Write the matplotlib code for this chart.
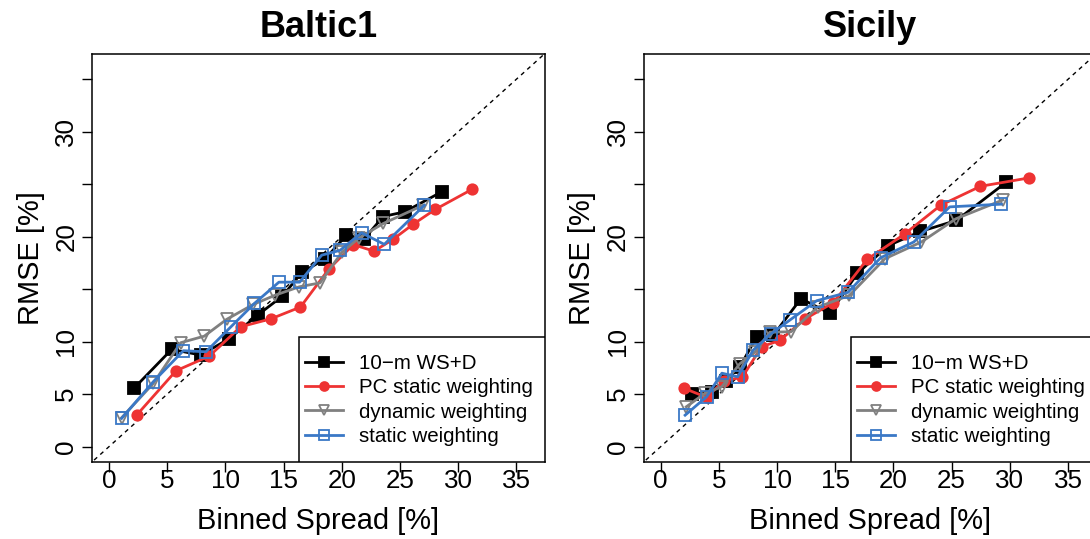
import numpy as np
import matplotlib.pyplot as plt
from matplotlib.patches import Rectangle

plt.rcParams["font.family"] = ["Liberation Sans", "DejaVu Sans"]

labels = ["10\u2212m WS+D", "PC static weighting", "dynamic weighting", "static weighting"]
titles = ["Baltic1", "Sicily"]

# Baltic1
b_ws_x = [2.18, 5.38, 7.9, 10.34, 12.77, 14.9, 16.6, 18.56, 20.4, 21.95, 23.55, 25.4, 28.58]
b_ws_y = [5.6, 9.26, 8.73, 10.3, 12.53, 14.34, 16.63, 17.87, 20.15, 19.82, 21.92, 22.37, 24.27]
b_pc_x = [2.38, 5.76, 8.62, 11.31, 13.92, 16.45, 18.86, 20.99, 22.77, 24.4, 26.15, 28.03, 31.17]
b_pc_y = [3.01, 7.23, 8.63, 11.42, 12.18, 13.3, 16.88, 19.25, 18.62, 19.75, 21.2, 22.6, 24.5]
b_dyn_x = [1.09, 3.81, 6.16, 8.19, 10.1, 12.4, 14.3, 16.35, 18.13, 20.0, 21.5, 23.57, 27.0]
b_dyn_y = [2.76, 6.03, 9.9, 10.53, 12.12, 13.55, 14.44, 15.23, 15.6, 18.5, 19.9, 21.26, 23.0]
b_st_x = [1.09, 3.81, 6.39, 8.33, 10.48, 12.49, 14.6, 16.38, 18.27, 19.85, 21.7, 23.65, 27.1]
b_st_y = [2.7, 6.19, 9.14, 9.04, 11.42, 13.64, 15.67, 15.67, 18.24, 18.7, 20.37, 19.27, 23.0]

# Sicily
s_ws_x = [2.66, 4.38, 5.6, 6.8, 8.24, 9.67, 12.05, 14.53, 16.9, 19.55, 22.32, 25.4, 29.7]
s_ws_y = [5.0, 5.25, 6.3, 7.6, 10.45, 10.6, 14.1, 12.7, 16.5, 19.15, 20.5, 21.55, 25.2]
s_pc_x = [2.03, 3.95, 5.45, 7.0, 8.67, 10.24, 12.37, 14.82, 17.75, 20.95, 24.06, 27.47, 31.64]
s_pc_y = [5.55, 4.7, 6.3, 6.6, 9.52, 10.12, 12.15, 13.7, 17.85, 20.25, 23.0, 24.8, 25.6]
s_dyn_x = [2.2, 3.8, 5.24, 6.8, 8.1, 9.38, 11.2, 13.5, 16.2, 19.26, 22.4, 25.35, 29.4]
s_dyn_y = [3.8, 5.08, 5.7, 7.9, 9.0, 10.9, 10.95, 13.3, 14.4, 17.9, 19.5, 21.7, 23.5]
s_st_x = [2.1, 3.95, 5.26, 6.62, 7.95, 9.44, 11.1, 13.4, 16.1, 18.9, 21.75, 24.83, 29.27]
s_st_y = [3.0, 4.76, 7.0, 6.66, 9.2, 10.72, 12.06, 13.9, 14.7, 18.0, 19.5, 22.84, 23.1]

panels = [
    [(b_ws_x, b_ws_y), (b_pc_x, b_pc_y), (b_dyn_x, b_dyn_y), (b_st_x, b_st_y)],
    [(s_ws_x, s_ws_y), (s_pc_x, s_pc_y), (s_dyn_x, s_dyn_y), (s_st_x, s_st_y)],
]

colors = ["#000000", "#EE3333", "#808080", "#3A78C6"]
markers = ["s", "o", "v", "s"]
filled = [True, True, False, False]
msizes = [8, 7.5, 9, 8]

xticks = [0, 5, 10, 15, 20, 25, 30, 35]
yticks = [0, 5, 10, 15, 20, 25, 30, 35]
ytick_labels = ["0", "5", "10", "", "20", "", "30", ""]

W, H = 1090, 539
fig = plt.figure(figsize=(W / 100, H / 100), dpi=100)
lefts = [92.2, 643.9]
for k, left in enumerate(lefts):
    ax = fig.add_axes([left / W, (H - 461.8) / H, 452.6 / W, 408.2 / H])
    ax.plot([-5, 45], [-5, 45], color="black", lw=1, ls=(0, (3, 3)))
    for (x, y), c, m, f, ms in zip(panels[k], colors, markers, filled, msizes):
        ax.plot(x, y, color=c, lw=2, marker=m, ms=ms,
                mfc=c if f else "none", mec=c, mew=1.3)
    ax.set_xlim(-1.44, 37.44)
    ax.set_ylim(-1.44, 37.44)
    ax.set_xticks(xticks)
    ax.set_yticks(yticks)
    ax.set_yticklabels(ytick_labels, rotation=90, va="center")
    ax.tick_params(length=7, width=1, labelsize=18.7, direction="out")
    ax.tick_params(axis="x", pad=-2)
    ax.tick_params(axis="y", pad=3)
    for s in ax.spines.values():
        s.set_linewidth(1.1)
    ax.set_xlabel("Binned Spread [%]", fontsize=20.9, labelpad=10)
    ax.set_ylabel("RMSE [%]", fontsize=20.9, labelpad=7)
    ax.set_title(titles[k], fontsize=26, fontweight="bold", pad=12)

    # legend box flush with the lower right corner
    ax.add_patch(Rectangle((0.458, 0.0), 0.542, 0.3065, transform=ax.transAxes,
                           facecolor="white", edgecolor="black", lw=1.1,
                           zorder=4))
    hs = []
    for c, m, f, ms in zip(colors, markers, filled, msizes):
        h, = ax.plot([], [], color=c, lw=2, marker=m, ms=ms * 0.85,
                     mfc=c if f else "none", mec=c, mew=1.3)
        hs.append(h)
    leg = ax.legend(hs, labels, loc="center left", bbox_to_anchor=(0.470, 0.1514),
                    borderaxespad=0, borderpad=0, frameon=False,
                    fontsize=14.8, handlelength=1.85, handletextpad=0.8,
                    labelspacing=0.25)
    leg.set_zorder(5)

fig.savefig("out.png", dpi=100)
